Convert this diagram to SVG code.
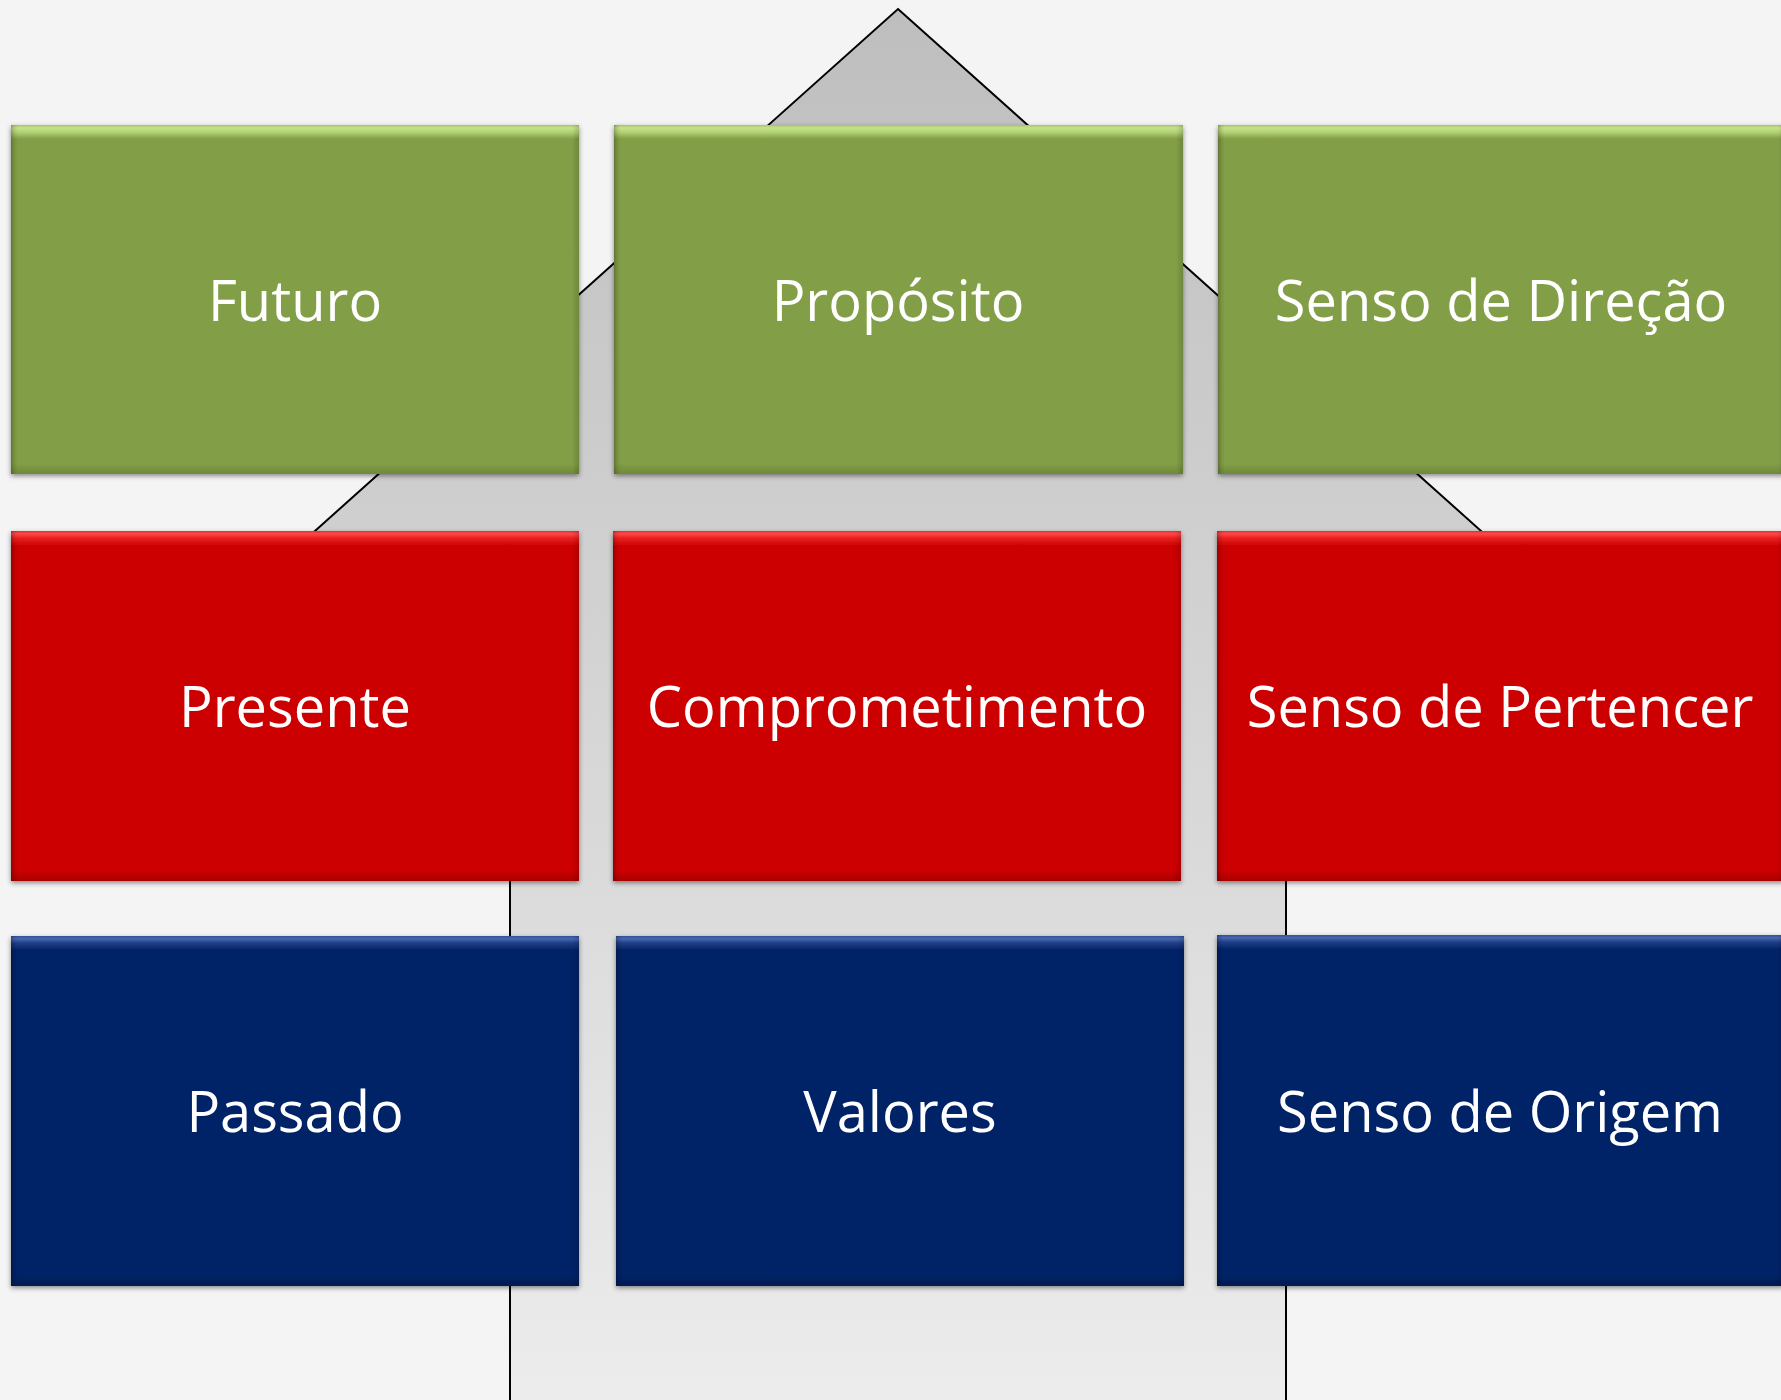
<svg xmlns="http://www.w3.org/2000/svg" width="1781" height="1400" viewBox="0 0 1781 1400">
<defs>
<style>
.lbl{font-family:"Open Sans","Noto Sans",sans-serif;font-size:56px;fill:#ffffff;text-anchor:middle}
.arrow{stroke:#000;stroke-width:2;fill:url(#gray)}
</style>
<linearGradient id="gray" gradientUnits="userSpaceOnUse" x1="0" y1="9" x2="0" y2="1400">
<stop offset="0" stop-color="#bebebe"/><stop offset="1" stop-color="#ececec"/>
</linearGradient>
<linearGradient id="gTop" x1="0" y1="0" x2="0" y2="1">
<stop offset="0" stop-color="#a8c070"/><stop offset="0.008" stop-color="#c4e488"/><stop offset="0.02" stop-color="#b4d278"/><stop offset="0.04" stop-color="#829e46"/><stop offset="0.97" stop-color="#829e46"/><stop offset="1" stop-color="#6e8a38"/>
</linearGradient>
<linearGradient id="rTop" x1="0" y1="0" x2="0" y2="1">
<stop offset="0" stop-color="#e03030"/><stop offset="0.008" stop-color="#ff4848"/><stop offset="0.02" stop-color="#ea2020"/><stop offset="0.04" stop-color="#cc0505"/><stop offset="0.97" stop-color="#cc0505"/><stop offset="1" stop-color="#a80404"/>
</linearGradient>
<linearGradient id="bTop" x1="0" y1="0" x2="0" y2="1">
<stop offset="0" stop-color="#30509a"/><stop offset="0.008" stop-color="#4868b0"/><stop offset="0.02" stop-color="#203f88"/><stop offset="0.04" stop-color="#042366"/><stop offset="0.97" stop-color="#042366"/><stop offset="1" stop-color="#031a50"/>
</linearGradient>
<linearGradient id="side" x1="0" y1="0" x2="1" y2="0">
<stop offset="0" stop-color="#000" stop-opacity="0.25"/><stop offset="0.006" stop-color="#000" stop-opacity="0.08"/><stop offset="0.012" stop-color="#000" stop-opacity="0"/><stop offset="0.988" stop-color="#000" stop-opacity="0"/><stop offset="1" stop-color="#000" stop-opacity="0.15"/>
</linearGradient>
<filter id="sh" x="-5%" y="-5%" width="110%" height="115%">
<feDropShadow dx="0" dy="2" stdDeviation="2.5" flood-color="#000" flood-opacity="0.45"/>
</filter>
</defs>
<rect width="1781" height="1400" fill="#f4f4f4"/>
<g id="connectors">
<path class="arrow" d="M898,9 L1614,650 L1286,650 L1286,1402 L510,1402 L510,650 L182,650 Z"/>
</g>
<g id="node-futuro"><rect x="11" y="125" width="568" height="349" fill="url(#gTop)" filter="url(#sh)"/><rect x="11" y="125" width="568" height="349" fill="url(#side)"/><text class="lbl" x="295" y="321">Futuro</text></g>
<g id="node-proposito"><rect x="614" y="125" width="569" height="349" fill="url(#gTop)" filter="url(#sh)"/><rect x="614" y="125" width="569" height="349" fill="url(#side)"/><text class="lbl" x="898" y="321">Propósito</text></g>
<g id="node-senso-direcao"><rect x="1218" y="125" width="567" height="349" fill="url(#gTop)" filter="url(#sh)"/><rect x="1218" y="125" width="567" height="349" fill="url(#side)"/><text class="lbl" x="1501" y="321">Senso de Direção</text></g>
<g id="node-presente"><rect x="11" y="531" width="568" height="350" fill="url(#rTop)" filter="url(#sh)"/><rect x="11" y="531" width="568" height="350" fill="url(#side)"/><text class="lbl" x="295" y="727">Presente</text></g>
<g id="node-comprometimento"><rect x="613" y="531" width="568" height="350" fill="url(#rTop)" filter="url(#sh)"/><rect x="613" y="531" width="568" height="350" fill="url(#side)"/><text class="lbl" x="897" y="727">Comprometimento</text></g>
<g id="node-senso-pertencer"><rect x="1217" y="531" width="567" height="350" fill="url(#rTop)" filter="url(#sh)"/><rect x="1217" y="531" width="567" height="350" fill="url(#side)"/><text class="lbl" x="1500" y="727">Senso de Pertencer</text></g>
<g id="node-passado"><rect x="11" y="936" width="568" height="350" fill="url(#bTop)" filter="url(#sh)"/><rect x="11" y="936" width="568" height="350" fill="url(#side)"/><text class="lbl" x="295" y="1132">Passado</text></g>
<g id="node-valores"><rect x="616" y="936" width="568" height="350" fill="url(#bTop)" filter="url(#sh)"/><rect x="616" y="936" width="568" height="350" fill="url(#side)"/><text class="lbl" x="900" y="1132">Valores</text></g>
<g id="node-senso-origem"><rect x="1217" y="935" width="567" height="351" fill="url(#bTop)" filter="url(#sh)"/><rect x="1217" y="935" width="567" height="351" fill="url(#side)"/><text class="lbl" x="1500" y="1132">Senso de Origem</text></g>
</svg>
